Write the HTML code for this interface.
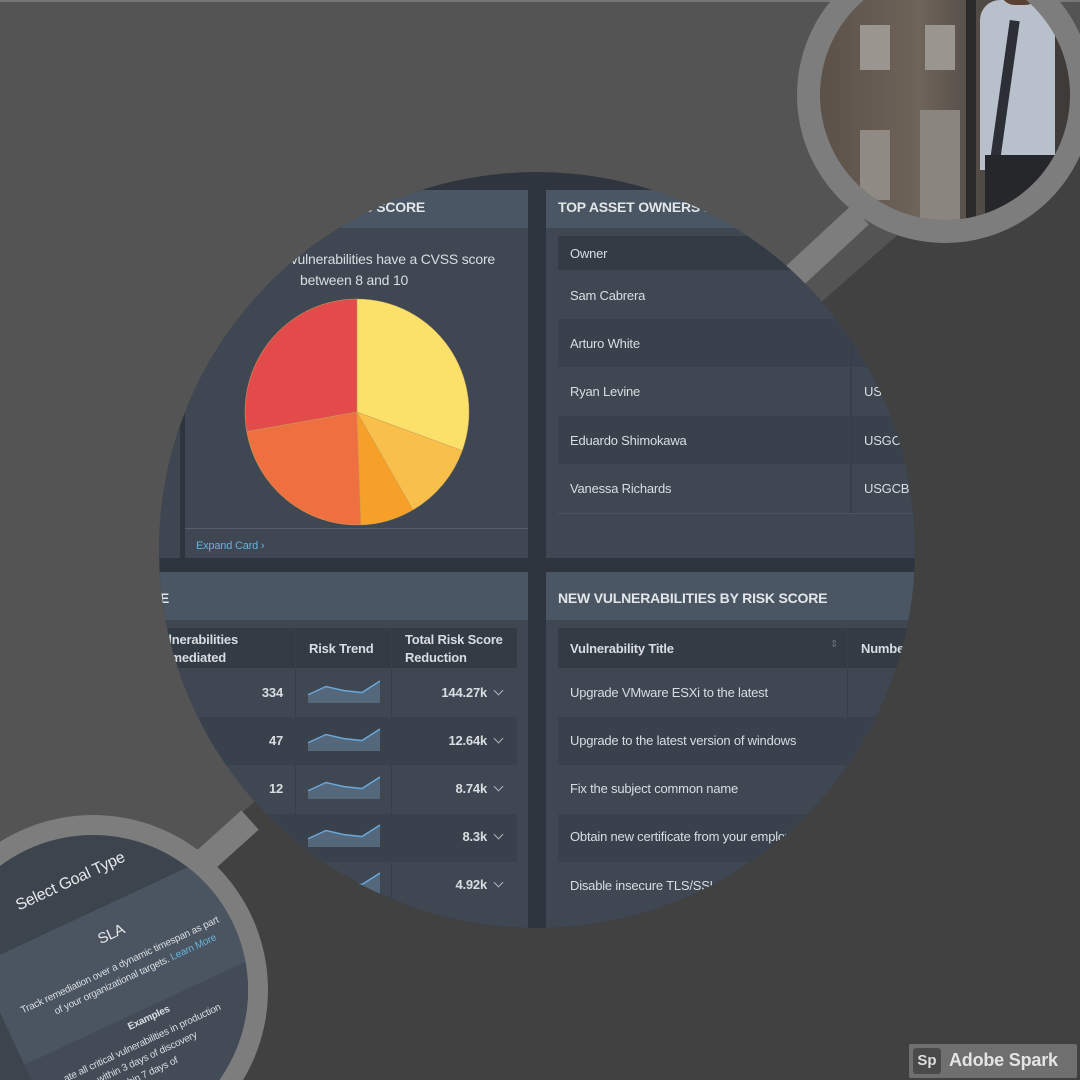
<!DOCTYPE html>
<html style="overflow:hidden;width:1080px;height:1080px"><head><meta charset="utf-8">
<style>
*{box-sizing:border-box;margin:0;padding:0}
html,body{width:1080px;height:1080px;overflow:hidden}
body{background:#545454;font-family:"Liberation Sans",sans-serif;position:relative}
#frame{position:absolute;left:0;top:0;width:1080px;height:1080px;overflow:hidden}
.abs{position:absolute}
.t{position:absolute;color:#d9dde2;font-size:13px;white-space:nowrap;letter-spacing:-0.2px}
.b{font-weight:bold}
.chev{position:absolute;width:7px;height:7px;border-right:1.5px solid #aab2bb;border-bottom:1.5px solid #aab2bb;transform:rotate(45deg)}
</style></head>
<body>
<div id="frame">
<svg class="abs" style="left:0;top:0" width="1080" height="1080">
<polygon points="1080,74 1080,1080 0,1080 0,1026" fill="#414141"/>
<line x1="250" y1="820" x2="200" y2="865" stroke="#7d7d7d" stroke-width="26"/>
<line x1="790" y1="280" x2="860" y2="215" stroke="#7d7d7d" stroke-width="26"/>
<rect x="0" y="0" width="1080" height="2" fill="#777"/>
</svg>

<!-- top-right photo circle -->
<div class="abs" style="left:797px;top:-53px;width:296px;height:296px;border-radius:50%;background:#7d7d7d;"></div>
<div class="abs" style="left:820px;top:-30px;width:250px;height:250px;border-radius:50%;overflow:hidden;background:linear-gradient(90deg,#5c5148,#6e645a 40%,#4b4540 70%,#3d3a38)">
  <div class="abs" style="left:40px;top:55px;width:30px;height:45px;background:#9a968f"></div>
  <div class="abs" style="left:105px;top:55px;width:30px;height:45px;background:#9a968f"></div>
  <div class="abs" style="left:40px;top:160px;width:30px;height:70px;background:#8f8a83"></div>
  <div class="abs" style="left:100px;top:140px;width:40px;height:110px;background:#8a857e"></div>
  <div class="abs" style="left:146px;top:0;width:10px;height:250px;background:#2b2a2a"></div>
  <div class="abs" style="left:160px;top:30px;width:75px;height:170px;background:#b8c0cc;border-radius:20px 20px 0 0"></div>
  <div class="abs" style="left:180px;top:50px;width:10px;height:140px;background:#2d2f36;transform:rotate(8deg)"></div>
  <div class="abs" style="left:165px;top:185px;width:70px;height:70px;background:#25272b"></div>
  <div class="abs" style="left:180px;top:0;width:40px;height:35px;background:#5a4033;border-radius:0 0 15px 15px"></div>
</div>

<!-- bottom-left circle -->
<div class="abs" style="left:-82px;top:815px;width:350px;height:350px;border-radius:50%;background:#7d7d7d"></div>
<div class="abs" style="left:-62px;top:835px;width:310px;height:310px;border-radius:50%;overflow:hidden;background:#3c444d">
  <div class="abs" style="left:20px;top:40px;width:330px;height:330px;transform:rotate(-25deg);transform-origin:0 0">
    <div class="abs" style="left:-60px;top:-40px;width:400px;height:40px;background:#4a5560"></div>
    <div class="t" style="left:40px;top:45px;font-size:16px;color:#e6e8ea">Select Goal Type</div>
    <div class="abs" style="left:-20px;top:90px;width:260px;height:300px;background:#4a5561"></div>
    <div class="abs" style="left:-20px;top:200px;width:260px;height:200px;background:#434c56"></div>
    <div class="t" style="left:100px;top:110px;font-size:15px;color:#e6e8ea">SLA</div>
    <div class="t" style="left:0;top:145px;font-size:10px">Track remediation over a dynamic timespan as part</div>
    <div class="t" style="left:30px;top:160px;font-size:10px">of your organizational targets. <span style="color:#6bb3dc">Learn More</span></div>
    <div class="t b" style="left:90px;top:205px;font-size:10px">Examples</div>
    <div class="t" style="left:10px;top:225px;font-size:10px">ate all critical vulnerabilities in production</div>
    <div class="t" style="left:40px;top:240px;font-size:10px">within 3 days of discovery</div>
    <div class="t" style="left:30px;top:255px;font-size:10px">ssets within 7 days of</div>
  </div>
</div>

<!-- main circle -->
<div class="abs" style="left:159px;top:172px;width:756px;height:756px;border-radius:50%;overflow:hidden;background:#2e353e">
 <div class="abs" style="left:-159px;top:-172px;width:1080px;height:1080px">
  <div class="abs" style="left:150px;top:190px;width:30px;height:368px;background:#3e4751"></div>
  <div class="abs" style="left:185px;top:190px;width:343px;height:368px;background:#3f4852">
    <div class="abs" style="left:0;top:0;width:343px;height:38px;background:#4a5664"></div>
    <div class="t b" style="left:0;top:9px;width:240px;text-align:right;font-size:14px;color:#e3e6e9">VULNERABILITIES BY CVSS SCORE</div>
    <div class="t" style="left:0;top:61px;width:310px;text-align:right;font-size:14px">Critical vulnerabilities have a CVSS score</div>
    <div class="t" style="left:115px;top:82px;font-size:14px">between 8 and 10</div>
    <div class="abs" style="left:0;top:338px;width:343px;height:1px;background:#55606b"></div>
    <div class="t" style="left:11px;top:350px;font-size:11px;color:#5fb3e3">Expand Card ›</div>
  </div>
  <svg class="abs" id="pie" style="left:0;top:0" width="1080" height="1080"></svg>
  <div class="abs" style="left:546px;top:190px;width:380px;height:368px;background:#3f4852">
    <div class="abs" style="left:0;top:0;width:380px;height:38px;background:#4a5664"></div>
    <div class="t b" style="left:12px;top:9px;font-size:14px;color:#e3e6e9">TOP ASSET OWNERS BY RISK</div>
    <div class="abs" style="left:12px;top:46px;width:370px;height:34px;background:#333b45"></div>
    <div class="t" style="left:24px;top:56px">Owner</div>
    <div class="abs" style="left:12px;top:129px;width:370px;height:48px;background:#39424c"></div>
    <div class="abs" style="left:12px;top:226px;width:370px;height:48px;background:#39424c"></div>
    <div class="abs" style="left:304px;top:80px;width:2px;height:244px;background:#37404a"></div>
    <div class="abs" style="left:12px;top:323px;width:370px;height:1px;background:#4a545f"></div>
    <div class="t" style="left:24px;top:98px">Sam Cabrera</div>
    <div class="t" style="left:24px;top:146px">Arturo White</div>
    <div class="t" style="left:24px;top:194px">Ryan Levine</div>
    <div class="t" style="left:318px;top:194px">USGCB</div>
    <div class="t" style="left:24px;top:243px">Eduardo Shimokawa</div>
    <div class="t" style="left:318px;top:243px">USGCB</div>
    <div class="t" style="left:24px;top:291px">Vanessa Richards</div>
    <div class="t" style="left:318px;top:291px">USGCB</div>
  </div>
  <div class="abs" style="left:150px;top:572px;width:378px;height:400px;background:#3f4852">
    <div class="abs" style="left:0;top:0;width:378px;height:48px;background:#4a5664"></div>
    <div class="t b" style="left:0;top:18px;width:19px;font-size:14px;text-align:right;overflow:hidden;direction:rtl;color:#e3e6e9">TOP REMEDIATIONS BY RISK SCORE</div>
    <div class="abs" style="left:0;top:56px;width:367px;height:40px;background:#333b45"></div>
    <div class="abs" style="left:145px;top:56px;width:1px;height:330px;background:#37404a"></div>
    <div class="abs" style="left:241px;top:56px;width:1px;height:330px;background:#37404a"></div>
    <div class="t b" style="left:0;top:60px;width:88px;text-align:right;overflow:hidden">Vulnerabilities</div>
    <div class="t b" style="left:0;top:78px;width:76px;text-align:right;overflow:hidden">Remediated</div>
    <div class="t b" style="left:159px;top:69px">Risk Trend</div>
    <div class="t b" style="left:255px;top:60px">Total Risk Score</div>
    <div class="t b" style="left:255px;top:78px">Reduction</div>
    <div class="abs" style="left:0;top:145px;width:367px;height:48px;background:#39424c"></div>
    <div class="abs" style="left:0;top:242px;width:367px;height:48px;background:#39424c"></div>
  </div>
  <div id="rows"></div>
  <svg class="abs" id="spark" style="left:0;top:0" width="1080" height="1080"></svg>
  <div class="abs" style="left:546px;top:572px;width:380px;height:400px;background:#3f4852">
    <div class="abs" style="left:0;top:0;width:380px;height:48px;background:#4a5664"></div>
    <div class="t b" style="left:12px;top:18px;font-size:14px;color:#e3e6e9">NEW VULNERABILITIES BY RISK SCORE</div>
    <div class="abs" style="left:12px;top:56px;width:370px;height:40px;background:#333b45"></div>
    <div class="abs" style="left:301px;top:56px;width:1px;height:330px;background:#37404a"></div>
    <div class="t b" style="left:24px;top:69px">Vulnerability Title</div>
    <div class="t" style="left:284px;top:67px;color:#6b7580;font-size:10px">⇕</div>
    <div class="t b" style="left:315px;top:69px">Number of Assets</div>
    <div class="abs" style="left:12px;top:145px;width:370px;height:48px;background:#39424c"></div>
    <div class="abs" style="left:12px;top:242px;width:370px;height:48px;background:#39424c"></div>
    <div class="t" style="left:24px;top:113px">Upgrade VMware ESXi to the latest</div>
    <div class="t" style="left:24px;top:161px">Upgrade to the latest version of windows</div>
    <div class="t" style="left:24px;top:209px">Fix the subject common name</div>
    <div class="t" style="left:24px;top:257px">Obtain new certificate from your employer</div>
    <div class="t" style="left:24px;top:306px">Disable insecure TLS/SSL protocol</div>
  </div>
 </div>
</div>

<div class="abs" style="left:909px;top:1044px;width:168px;height:34px;background:#6f6f6f;border-radius:2px">
  <div class="abs" style="left:4px;top:4px;width:28px;height:26px;background:#4a4a4a;border-radius:3px;color:#ddd;font:bold 15px 'Liberation Sans',sans-serif;text-align:center;line-height:26px">Sp</div>
  <div class="t b" style="left:40px;top:6px;font-size:18px;color:#e4e4e4">Adobe Spark</div>
</div>
</div>

<script>
// pie data
const pieLabels=['score-4-5','score-5-6','score-6-7','score-7-8','score-8-10'];
const pieValues=[110,40,28,82,100];
const pieColors=['#fbe06a','#f8c04b','#f7a029','#ee7040','#e34b4a'];
// sparkline data
const trendValues=[3,6,4.5,3.8,8];
const removedValues=['334','47','12','',''];
const reductionLabels=['144.27k','12.64k','8.74k','8.3k','4.92k'];

const NS='http://www.w3.org/2000/svg';
const pie=document.getElementById('pie');
const cx=357,cy=412,rx=112,ry=113;
const tot=pieValues.reduce((a,b)=>a+b,0);
let a0=0;
pieValues.forEach((v,i)=>{
  const a1=a0+v/tot*2*Math.PI;
  const x0=cx+rx*Math.sin(a0),y0=cy-ry*Math.cos(a0),x1=cx+rx*Math.sin(a1),y1=cy-ry*Math.cos(a1);
  const p=document.createElementNS(NS,'path');
  p.setAttribute('d',`M${cx},${cy}L${x0},${y0}A${rx},${ry} 0 ${a1-a0>Math.PI?1:0} 1 ${x1},${y1}Z`);
  p.setAttribute('fill',pieColors[i]);
  p.setAttribute('stroke','#c9a25a');p.setAttribute('stroke-width','0.5');
  
  
  pie.appendChild(p);
  a0=a1;
});

const sp=document.getElementById('spark');
const rows=document.getElementById('rows');
const tmax=Math.max(...trendValues),tmin=0;
reductionLabels.forEach((lab,r)=>{
  const top=676+r*48;
  const x0=308,x1=380,yb=top+27,h=22;
  const xs=i=>x0+i*(x1-x0)/(trendValues.length-1);
  const ys=v=>yb-(v-tmin)/(tmax-tmin)*h;
  let d=trendValues.map((v,i)=>(i?'L':'M')+xs(i)+','+ys(v)).join('');
  const area=document.createElementNS(NS,'path');
  area.setAttribute('d',d+`L${x1},${yb}L${x0},${yb}Z`);
  area.setAttribute('fill','#55677b');
  
  
  sp.appendChild(area);
  const ln=document.createElementNS(NS,'path');
  ln.setAttribute('d',d);ln.setAttribute('fill','none');ln.setAttribute('stroke','#6aa6d8');ln.setAttribute('stroke-width','1.5');
  
  
  sp.appendChild(ln);
  const v=document.createElement('div');
  v.className='t b';
  v.style.cssText=`left:410px;top:${top+9}px;width:77px;text-align:right`;
  v.textContent=lab;
  
  
  rows.appendChild(v);
  const c=document.createElement('div');
  c.className='chev';c.style.left='495px';c.style.top=(top+11)+'px';
  
  
  rows.appendChild(c);
  const n=document.createElement('div');
  n.className='t b';n.style.cssText=`left:223px;top:${top+9}px;width:60px;text-align:right`;n.textContent=removedValues[r];
  
  
  rows.appendChild(n);
});
</script>
</body></html>
